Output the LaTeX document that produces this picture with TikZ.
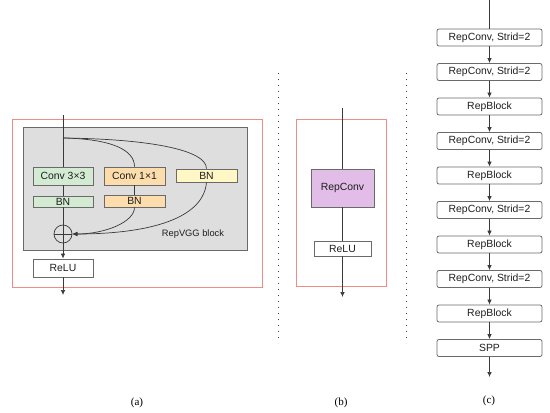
\documentclass[tikz,border=0pt]{standalone}
\usepackage{fontspec}
\setmainfont{Liberation Sans}
\newfontfamily\capfont{Liberation Serif}
\usetikzlibrary{arrows.meta}
\definecolor{lnc}{HTML}{3A3A3A}
\definecolor{bdc}{HTML}{6A6A6A}
\definecolor{redc}{HTML}{F28A86}
\definecolor{grayfill}{HTML}{DEDEDE}
\definecolor{greenc}{HTML}{D3EBD3}
\definecolor{orangec}{HTML}{FEDDAC}
\definecolor{yellowc}{HTML}{FFF8C6}
\definecolor{purplec}{HTML}{E2BDE8}
\definecolor{txtc}{HTML}{1E1E1E}
\begin{document}
\begin{tikzpicture}[x=1pt,y=-1pt,
  lin/.style={draw=lnc, line width=0.7pt},
  arr/.style={lin, -{Latex[length=5pt,width=4.5pt]}},
  boxa/.style={draw=bdc, line width=0.8pt, inner sep=0pt, text=txtc,
     font=\fontsize{10.4}{12}\selectfont},
  cbox/.style={boxa, rounded corners=2pt, fill=white, minimum width=105pt, minimum height=17pt},
  redbox/.style={draw=redc, line width=0.9pt},
  dotline/.style={draw=lnc, line width=0.9pt, dash pattern=on 0.9pt off 5.1pt},
  captext/.style={font=\capfont\fontsize{11}{13}\selectfont, inner sep=0pt}
]
\useasboundingbox (0,0) rectangle (550,413);

% ---------- (a) ----------
\draw[redbox] (12,119) rectangle (262,287);
\node[draw=bdc, line width=0.8pt, fill=grayfill, minimum width=224pt, minimum height=123pt, inner sep=0pt] (blk) at (135,188.5) {};
\node[boxa, fill=greenc, minimum width=60pt, minimum height=18pt] (c33) at (63,176) {Conv 3×3};
\node[boxa, fill=greenc, minimum width=60pt, minimum height=11pt] (bng) at (63,201.5) {BN};
\node[boxa, fill=orangec, minimum width=61pt, minimum height=18pt] (c11) at (134.5,176) {Conv 1×1};
\node[boxa, fill=orangec, minimum width=61pt, minimum height=12pt] (bno) at (134.5,201) {BN};
\node[boxa, fill=yellowc, minimum width=61pt, minimum height=13pt] (bny) at (206.5,175.5) {BN};
\node[draw=lnc, line width=0.7pt, circle, minimum size=18pt, inner sep=0pt] (add) at (63,234) {};
\node[font=\fontsize{9.3}{11}\selectfont, text=txtc, inner sep=0pt] (lbl) at (193,234) {RepVGG block};
\node[boxa, fill=white, minimum width=60pt, minimum height=18pt] (relua) at (63,268) {ReLU};
\coordinate (ta) at (63,115);
\coordinate (br) at (63,138);
\coordinate (oa) at (63,295);

\draw[lin] (ta) -- (c33.north);
\draw[lin] (c33.south) -- (bng.north);
\draw[lin] (bng.south) -- (add.north);
\draw[lin] (add.north) -- (add.south);
\draw[lin] (add.west) -- (add.east);
\draw[lin] (br) .. controls (112,139) and (134.5,150) .. (c11.north);
\draw[lin] (br) .. controls (150,139) and (206.5,150) .. (bny.north);
\draw[lin] (c11.south) -- (bno.north);
\draw[arr] (bno.south) .. controls (134.5,222) and (105,234) .. (add.east);
\draw[arr] (bny.south) .. controls (203,222) and (140,234) .. (add.east);
\draw[arr] (add.south) -- (relua.north);
\draw[arr] (relua.south) -- (oa);

% ---------- (b) ----------
\draw[redbox] (296,119) rectangle (386,286);
\node[boxa, fill=purplec, minimum width=63pt, minimum height=38pt] (rc) at (342.5,188) {RepConv};
\node[boxa, fill=white, minimum width=57pt, minimum height=15pt] (relub) at (342.5,248.5) {ReLU};
\coordinate (tb) at (342.5,108);
\coordinate (ob) at (342.5,297);
\draw[lin] (tb) -- (rc.north);
\draw[lin] (rc.south) -- (relub.north);
\draw[arr] (relub.south) -- (ob);

% ---------- dotted separators ----------
\coordinate (d1t) at (278,73);
\coordinate (d1b) at (278,343);
\coordinate (d2t) at (406,73);
\coordinate (d2b) at (406,343);
\draw[dotline] (d1t) -- (d1b);
\draw[dotline] (d2t) -- (d2b);

% ---------- (c) ----------
\node[cbox] (k1) at (489.5,37.5) {RepConv, Strid=2};
\node[cbox] (k2) at (489.5,72) {RepConv, Strid=2};
\node[cbox] (k3) at (489.5,106.5) {RepBlock};
\node[cbox] (k4) at (489.5,141) {RepConv, Strid=2};
\node[cbox] (k5) at (489.5,175.5) {RepBlock};
\node[cbox] (k6) at (489.5,210) {RepConv, Strid=2};
\node[cbox] (k7) at (489.5,244.5) {RepBlock};
\node[cbox] (k8) at (489.5,279) {RepConv, Strid=2};
\node[cbox] (k9) at (489.5,313.5) {RepBlock};
\node[cbox] (k10) at (489.5,348) {SPP};
\coordinate (tc) at (489.5,0);
\coordinate (oc) at (489.5,377);
\draw[lin] (tc) -- (k1.north);
\foreach \a/\b in {k1/k2,k2/k3,k3/k4,k4/k5,k5/k6,k6/k7,k7/k8,k8/k9,k9/k10}
  \draw[arr] (\a.south) -- (\b.north);
\draw[arr] (k10.south) -- (oc);

% ---------- captions ----------
\node[captext] (capa) at (137,403) {(a)};
\node[captext] (capb) at (341,403) {(b)};
\node[captext] (capc) at (489,401) {(c)};
\end{tikzpicture}
\end{document}
